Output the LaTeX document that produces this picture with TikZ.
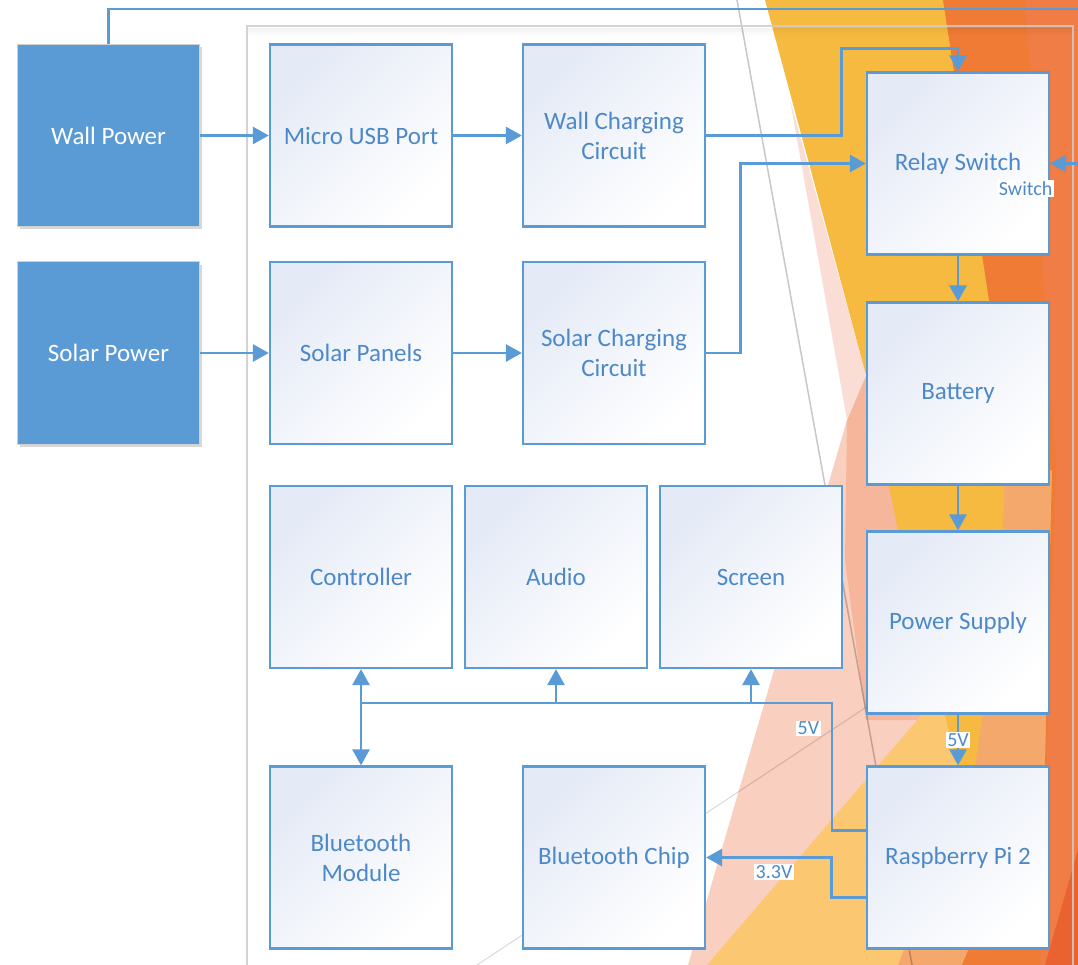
\documentclass[tikz,border=0pt]{standalone}
\usepackage{fontspec}
\setmainfont{Carlito}
\usetikzlibrary{positioning,arrows.meta,shadows}
\usepackage{xcolor}

\definecolor{lineblue}{HTML}{5B9BD5}
\definecolor{textblue}{HTML}{4D89C8}
\definecolor{boxtint}{HTML}{E4EAF6}
\definecolor{boxmid}{HTML}{FCFDFF}
\definecolor{bgyellow}{HTML}{F6BA40}
\definecolor{bgorange}{HTML}{EF7B35}
\definecolor{bgrorange}{HTML}{EF7D45}
\definecolor{bglorange}{HTML}{F4A86B}
\definecolor{bgpale}{HTML}{FCC771}
\definecolor{bgpink}{HTML}{F9CFBF}
\definecolor{bgsalmon}{HTML}{F5B69C}
\definecolor{bglpink}{HTML}{FADED5}
\definecolor{bgdark}{HTML}{EA6230}

\tikzset{
  block/.style={draw=lineblue, line width=2.3pt, top color=boxtint, middle color=boxmid,
    bottom color=white, shading angle=45, minimum width=182pt, minimum height=182pt,
    text=textblue, align=center, font=\fontsize{25}{30}\selectfont},
  powerbox/.style={draw=black!18, line width=1pt, fill=lineblue, text=white,
    minimum width=182pt, minimum height=182pt, font=\fontsize{25}{30}\selectfont,
    drop shadow={shadow xshift=2pt, shadow yshift=-3pt, opacity=0.3}},
  wire/.style={draw=lineblue, line width=2.8pt},
  volt/.style={fill=white, text=textblue, inner sep=1.5pt, font=\fontsize{20}{22}\selectfont},
}

\begin{document}
\begin{tikzpicture}[x=1pt,y=-1pt,>={Triangle[length=16pt,width=17pt]}]
	\useasboundingbox (0,0) rectangle (1078,965);
	\clip (0,0) rectangle (1078,965);
	\fill[white] (0,0) rectangle (1078,965);
	% background facets
	\fill[bgpink] (847,420) -- (1078,420) -- (1078,965) -- (688,965) -- cycle;
	\fill[bgsalmon] (866,375) -- (1078,375) -- (1078,720) -- (866,720) -- (845,560) -- (847,420) -- cycle;
	\fill[bgpale] (707,965) -- (973,655) -- (1078,655) -- (1078,965) -- cycle;
	\fill[bglpink] (790,100) -- (866,375) -- (847,420) -- cycle;
	\fill[bgyellow] (765,0) -- (1078,0) -- (1078,540) -- (1012,540) -- (978,766) -- (958,766) -- (900,540) -- (866,375) -- cycle;
	\fill[bglorange] (1005,470) -- (1078,470) -- (1078,765) -- (962,965) -- (898,965) -- (975,766) -- (1000,600) -- cycle;
	\fill[bgorange] (943,0) -- (1078,0) -- (1078,965) -- (962,965) -- (1045,765) -- (1052,470) -- (1015,470) -- cycle;
	\fill[bgrorange] (1025,0) -- (1078,0) -- (1078,965) -- (1040,965) -- (1056,470) -- cycle;
	\fill[bgdark] (1078,850) -- (1078,965) -- (1045,965) -- cycle;
	\draw[black, opacity=0.22, line width=1.5pt] (737,0) -- (912,965);
	\draw[black, opacity=0.15, line width=1pt] (477,965) -- (960,645);
	% frame
	\foreach \d/\o in {3/0.05,5/0.035,7/0.02,9/0.01}
		\draw[black, opacity=\o, line width=2pt] (248,26+\d) -- (1072,26+\d);
	\draw[black!20, opacity=0.85, line width=1.5pt] (247,26) rectangle (1073,1000);

	\node[powerbox] (wall) at (108.5,135.5) {Wall Power};
	\node[powerbox] (solar) at (108.5,353) {Solar Power};
	\node[block] (usb) at (361,135.5) {Micro USB Port};
	\node[block] (wallchg) at (614,135.5) {Wall Charging\\Circuit};
	\node[block] (panels) at (361,353) {Solar Panels};
	\node[block] (solarchg) at (614,353) {Solar Charging\\Circuit};
	\node[block] (relay) at (958,163.5) {Relay Switch};
	\node[block] (battery) at (958,393.5) {Battery};
	\node[block] (psu) at (958,622.5) {Power Supply};
	\node[block] (ctrl) at (361,577) {Controller};
	\node[block] (audio) at (556,577) {Audio};
	\node[block] (screen) at (751,577) {Screen};
	\node[block] (btmod) at (361,857.5) {Bluetooth\\Module};
	\node[block] (btchip) at (614,857.5) {Bluetooth Chip};
	\node[block] (rpi) at (958,857.5) {Raspberry Pi 2};

	\coordinate (offpage) at (1095,9);
	\coordinate (busR) at (832,703);
	\coordinate (bus) at (361,703);

	\draw[wire,->] (wall.north) |- (offpage) |- (relay.east)
		node[volt, anchor=north east, xshift=5pt, yshift=-15pt] (sw) {Switch};
	\draw[wire,->] (wall) -- (usb);
	\draw[wire,->] (usb) -- (wallchg);
	\draw[wire,->] (wallchg.east) -- ++(135,0) |- ([yshift=23pt]relay.north) -- (relay.north);
	\draw[wire,->] (solar) -- (panels);
	\draw[wire,->] (panels) -- (solarchg);
	\draw[wire,->] (solarchg.east) -- ++(34,0) |- (relay.west);
	\draw[wire,->] (relay) -- (battery);
	\draw[wire,->] (battery) -- (psu);
	\draw[wire,->] (psu) -- node[volt] (v5b) {5V} (rpi);
	\draw[wire] ([yshift=27pt]rpi.west) -| node[volt, pos=0.9, left=10pt] (v5a) {5V} (busR) -- (bus);
	\draw[wire,->] (bus -| audio.south) -- (audio.south);
	\draw[wire,->] (bus -| screen.south) -- (screen.south);
	\draw[wire,<->] (ctrl.south) -- (btmod.north);
	\draw[wire,->] ([yshift=-40pt]rpi.west) -- ++(-34,0) |- node[volt, pos=0.73, below=5pt] (v33) {3.3V} (btchip.east);
\end{tikzpicture}
\end{document}
